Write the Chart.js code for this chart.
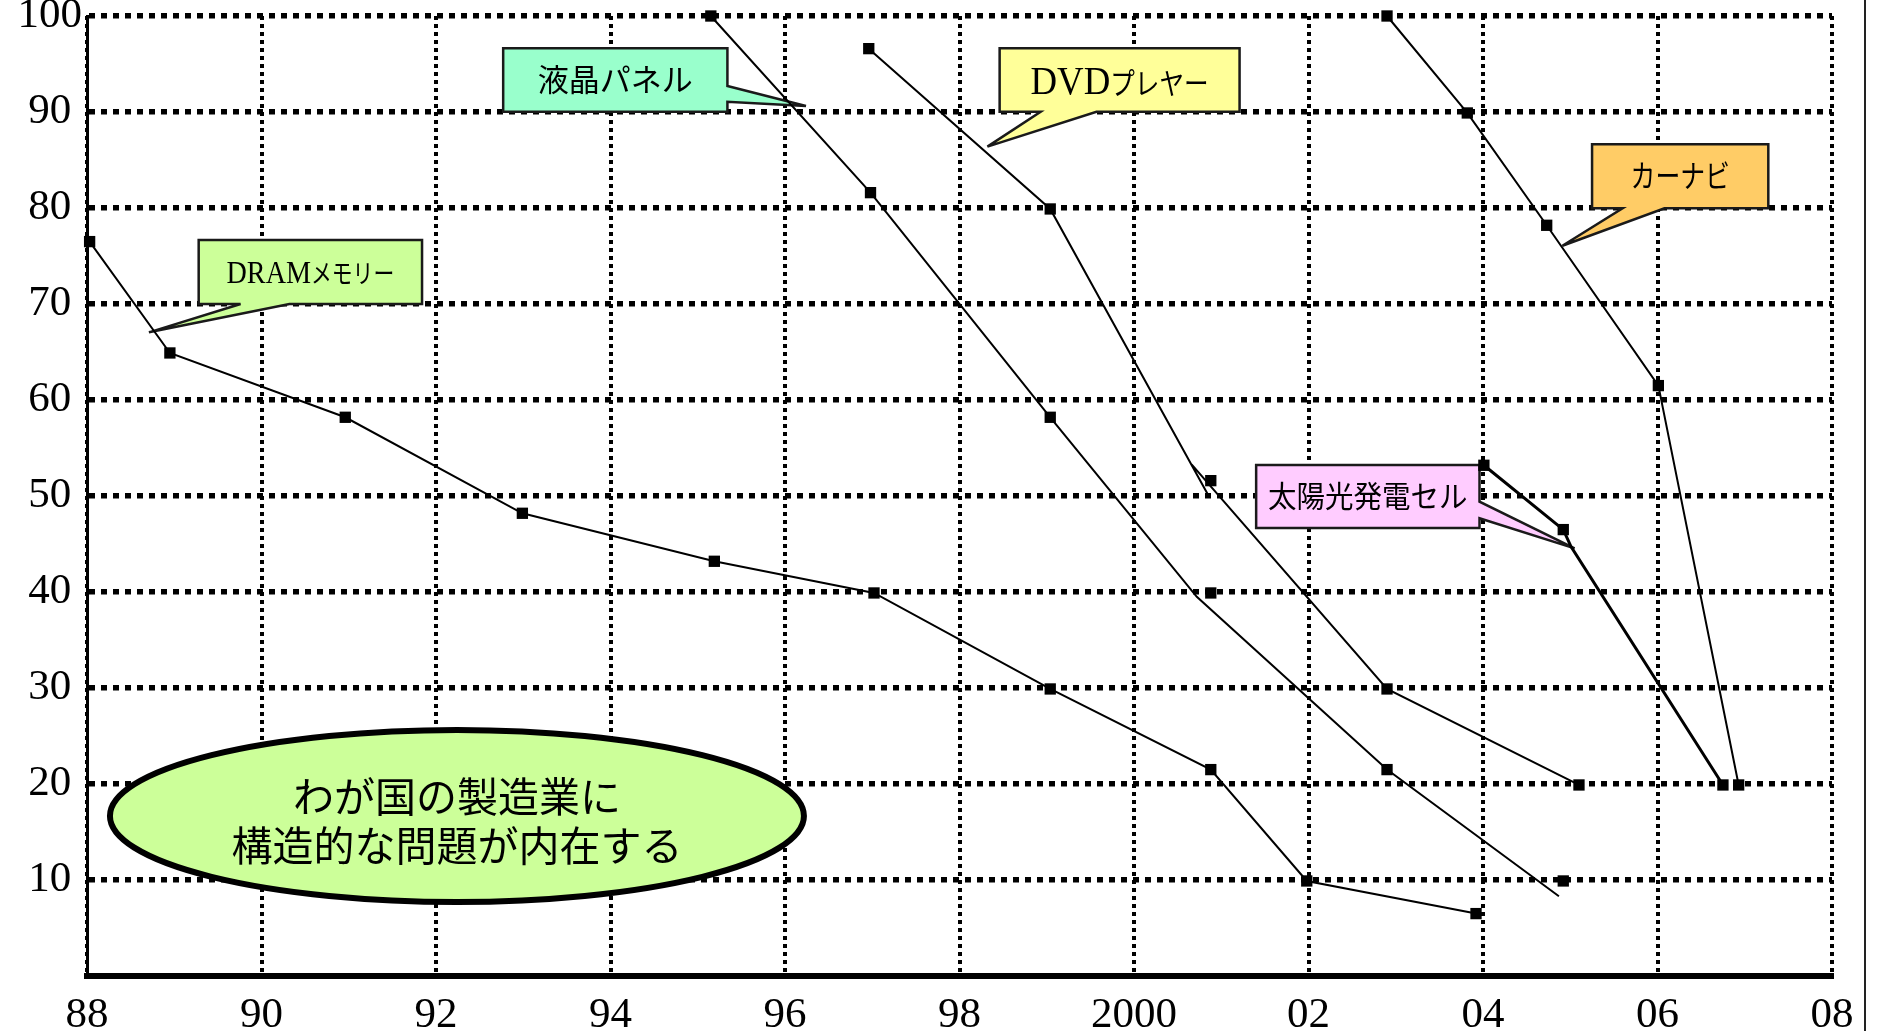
<!DOCTYPE html>
<html lang="ja">
<head>
<meta charset="utf-8">
<script src="https://cdn.jsdelivr.net/npm/chart.js@4/dist/chart.umd.min.js"></script>
<style>
  html, body { margin: 0; padding: 0; background: #ffffff; }
  canvas { display: block; }
</style>
</head>
<body>
<canvas id="c" width="1881" height="1031"></canvas>
<script>
// Axis tick labels (years on x, index on y)
const xTickLabels = ['88', '90', '92', '94', '96', '98', '2000', '02', '04', '06', '08'];
const yTickLabels = ['', '10', '20', '30', '40', '50', '60', '70', '80', '90', '100'];

// DRAMメモリー
const dramYears  = [1988.03, 1988.95, 1990.96, 1992.99, 1995.19, 1997.02, 1999.04, 2000.88, 2001.98, 2003.92];
const dramValues = [76.5, 64.9, 58.2, 48.2, 43.2, 39.9, 29.9, 21.5, 9.9, 6.5];

// 液晶パネル (markers, and the drawn trend line)
const lcdYears      = [1995.15, 1996.98, 1999.04, 2000.88, 2002.90, 2004.92];
const lcdValues     = [100, 81.6, 58.2, 39.9, 21.5, 9.9];
const lcdLineYears  = [1995.15, 1996.98, 1999.04, 2000.72, 2002.90, 2004.87];
const lcdLineValues = [100, 81.6, 58.2, 39.5, 21.5, 8.3];

// DVDプレヤー (the trend line is drawn in two strokes)
const dvdYears      = [1996.96, 1999.04, 2000.88, 2002.90, 2005.10];
const dvdValues     = [96.6, 79.9, 51.6, 29.9, 19.9];
const dvdLineYears  = [1996.96, 1999.04, 2000.85, 2000.75, 2000.66, 2002.90, 2005.10];
const dvdLineValues = [96.6, 79.9, 50.1, null, 53.3, 29.9, 19.9];

// カーナビ
const navYears  = [2002.90, 2003.82, 2004.73, 2006.01, 2006.93];
const navValues = [100, 89.9, 78.2, 61.5, 19.9];

// 太陽光発電セル
const solarYears      = [2004.01, 2004.92, 2006.75];
const solarValues     = [53.2, 46.5, 19.9];
const solarLineYears  = [2004.01, 2004.92, 2005.01, 2006.75];
const solarLineValues = [53.2, 46.5, 44.7, 19.9];

const pts = (xs, ys) => xs.map((x, i) => ({ x: x, y: ys[i] }));

const serif = '"Liberation Serif", "Times New Roman", serif';
const gothic = '"Noto Sans CJK JP", sans-serif';

// Speech-bubble labels, placed in axis units; text is a run of styled pieces
const callouts = [
  { fill: '#CCFF99', x0: 1989.28, x1: 1991.84, y0: 76.67, y1: 70.0,
    side: 'bottom', b0: 1989.76, b1: 1990.32, tip: [1988.71, 67.05],
    runs: [{ t: 'DRAM', font: serif, size: 32, sx: 0.88 }, { t: 'メモリー', font: gothic, size: 26, sx: 0.8 }] },
  { fill: '#99FFCC', x0: 1992.77, x1: 1995.34, y0: 96.64, y1: 90.03,
    side: 'right', b0: 92.71, b1: 91.07, tip: [1996.24, 90.63],
    runs: [{ t: '液晶パネル', font: gothic, size: 31, sx: 1.0 }] },
  { fill: '#FFFF99', x0: 1998.46, x1: 2001.21, y0: 96.64, y1: 90.03,
    side: 'bottom', b0: 1998.93, b1: 1999.57, tip: [1998.32, 86.39],
    runs: [{ t: 'DVD', font: serif, size: 40, sx: 0.92 }, { t: 'プレヤー', font: gothic, size: 30, sx: 0.82 }] },
  { fill: '#FFCC66', x0: 2005.25, x1: 2007.27, y0: 86.64, y1: 79.97,
    side: 'bottom', b0: 2005.60, b1: 2006.08, tip: [2004.91, 76.07],
    runs: [{ t: 'カーナビ', font: gothic, size: 31, sx: 0.8 }] },
  { fill: '#FFCCFF', x0: 2001.40, x1: 2003.96, y0: 53.23, y1: 46.67,
    side: 'right', b0: 49.41, b1: 47.68, tip: [2005.05, 44.55],
    runs: [{ t: '太陽光発電セル', font: gothic, size: 30, sx: 0.95 }] }
];

const ellipse = {
  cx: 1992.24, cy: 16.67, rx: 3.977, ry: 8.96, fill: '#CCFF99',
  lines: ['わが国の製造業に', '構造的な問題が内在する'], lineOffsets: [-20, 29], size: 41
};

function drawRuns(ctx, runs, cx, cy) {
  ctx.save();
  ctx.fillStyle = '#000';
  ctx.textAlign = 'left';
  ctx.textBaseline = 'alphabetic';
  const widths = runs.map(r => { ctx.font = r.size + 'px ' + r.font; return ctx.measureText(r.t).width * r.sx; });
  const total = widths.reduce((a, b) => a + b, 0);
  // shared baseline for mixed runs; single runs sit centred on cy
  const maxSize = Math.max(...runs.map(r => r.size));
  const base = cy + maxSize * 0.34;
  let xPos = cx - total / 2;
  runs.forEach((r, i) => {
    ctx.save();
    ctx.font = r.size + 'px ' + r.font;
    const b = r.font === gothic ? cy + r.size * 0.36 : base;
    ctx.translate(xPos, runs.length > 1 ? base : b);
    ctx.scale(r.sx, 1);
    ctx.fillText(r.t, 0, 0);
    ctx.restore();
    xPos += widths[i];
  });
  ctx.restore();
}

const annotations = {
  id: 'annotations',
  beforeDatasetsDraw(chart) {
    const { ctx, scales: { x, y } } = chart;
    ctx.save();
    for (const c of callouts) {
      const L = x.getPixelForValue(c.x0), R = x.getPixelForValue(c.x1);
      const T = y.getPixelForValue(c.y0), B = y.getPixelForValue(c.y1);
      const tx = x.getPixelForValue(c.tip[0]), ty = y.getPixelForValue(c.tip[1]);
      ctx.beginPath();
      ctx.moveTo(L, T);
      ctx.lineTo(R, T);
      if (c.side === 'right') {
        const a = y.getPixelForValue(c.b0), b = y.getPixelForValue(c.b1);
        ctx.lineTo(R, a); ctx.lineTo(tx, ty); ctx.lineTo(R, b);
        ctx.lineTo(R, B); ctx.lineTo(L, B);
      } else {
        const a = x.getPixelForValue(c.b0), b = x.getPixelForValue(c.b1);
        ctx.lineTo(R, B); ctx.lineTo(b, B); ctx.lineTo(tx, ty); ctx.lineTo(a, B);
        ctx.lineTo(L, B);
      }
      ctx.closePath();
      ctx.fillStyle = c.fill;
      ctx.fill();
      ctx.lineWidth = 2.5;
      ctx.lineJoin = 'miter';
      ctx.miterLimit = 4;
      ctx.strokeStyle = '#1a1a1a';
      ctx.stroke();
      drawRuns(ctx, c.runs, (L + R) / 2, (T + B) / 2);
    }

    const ex = x.getPixelForValue(ellipse.cx), ey = y.getPixelForValue(ellipse.cy);
    const rx = Math.abs(x.getPixelForValue(ellipse.cx + ellipse.rx) - ex);
    const ry = Math.abs(y.getPixelForValue(ellipse.cy + ellipse.ry) - ey);
    ctx.beginPath();
    ctx.ellipse(ex, ey, rx, ry, 0, 0, Math.PI * 2);
    ctx.fillStyle = ellipse.fill;
    ctx.fill();
    ctx.lineWidth = 6;
    ctx.strokeStyle = '#000';
    ctx.stroke();
    ctx.font = ellipse.size + 'px ' + gothic;
    ctx.fillStyle = '#000';
    ctx.textAlign = 'center';
    ctx.textBaseline = 'middle';
    ellipse.lines.forEach((t, i) => ctx.fillText(t, ex, ey + ellipse.lineOffsets[i]));
    ctx.restore();
  },
  afterDraw(chart) {
    // page frame edge on the right
    const { ctx, width, height } = chart;
    ctx.save();
    ctx.strokeStyle = '#222';
    ctx.lineWidth = 2;
    ctx.beginPath();
    ctx.moveTo(width - 16, 0);
    ctx.lineTo(width - 16, height);
    ctx.stroke();
    ctx.restore();
  }
};

const markerSet = (xs, ys) => ({
  data: pts(xs, ys), showLine: false, order: 0, clip: false,
  pointStyle: 'rect', pointRadius: 8, pointHoverRadius: 8,
  pointBackgroundColor: '#000', pointBorderWidth: 0, borderColor: '#000'
});
const lineSet = (xs, ys, w) => ({
  data: pts(xs, ys), showLine: true, order: 1, clip: false, spanGaps: false,
  borderColor: '#000', borderWidth: w, pointRadius: 0, tension: 0, fill: false
});

new Chart(document.getElementById('c'), {
  type: 'line',
  data: {
    datasets: [
      markerSet(dramYears, dramValues),
      markerSet(lcdYears, lcdValues),
      markerSet(dvdYears, dvdValues),
      markerSet(navYears, navValues),
      markerSet(solarYears, solarValues),
      lineSet(dramYears, dramValues, 2),
      lineSet(lcdLineYears, lcdLineValues, 2),
      lineSet(dvdLineYears, dvdLineValues, 2),
      lineSet(navYears, navValues, 2),
      lineSet(solarLineYears, solarLineValues, 3)
    ]
  },
  options: {
    responsive: false,
    devicePixelRatio: 1,
    animation: false,
    events: [],
    layout: { padding: { top: 16, right: 49, bottom: 0, left: 0 } },
    plugins: { legend: { display: false }, tooltip: { enabled: false } },
    scales: {
      x: {
        type: 'linear', min: 1988, max: 2008, offset: false,
        afterFit(scale) { scale.height = 55; scale.paddingLeft = 0; scale.paddingRight = 0; },
        ticks: {
          stepSize: 2, autoSkip: false, maxRotation: 0, padding: 14, color: '#000',
          font: { family: serif, size: 43 },
          callback: (v, i) => xTickLabels[i]
        },
        grid: { color: '#000', lineWidth: 4, drawTicks: false },
        border: { display: true, color: '#000', width: 6, dash: [4, 4] }
      },
      y: {
        type: 'linear', min: 0, max: 100,
        afterFit(scale) { scale.width = 87; scale.paddingTop = 0; scale.paddingBottom = 0; },
        ticks: {
          stepSize: 10, crossAlign: 'center', padding: 5, color: '#000',
          font: { family: serif, size: 43 },
          callback: (v, i) => yTickLabels[i]
        },
        grid: { color: '#000', lineWidth: 5.5, drawTicks: false },
        border: { display: true, color: '#000', width: 3, dash: [6, 6] }
      }
    }
  },
  plugins: [annotations]
});
</script>
</body>
</html>
